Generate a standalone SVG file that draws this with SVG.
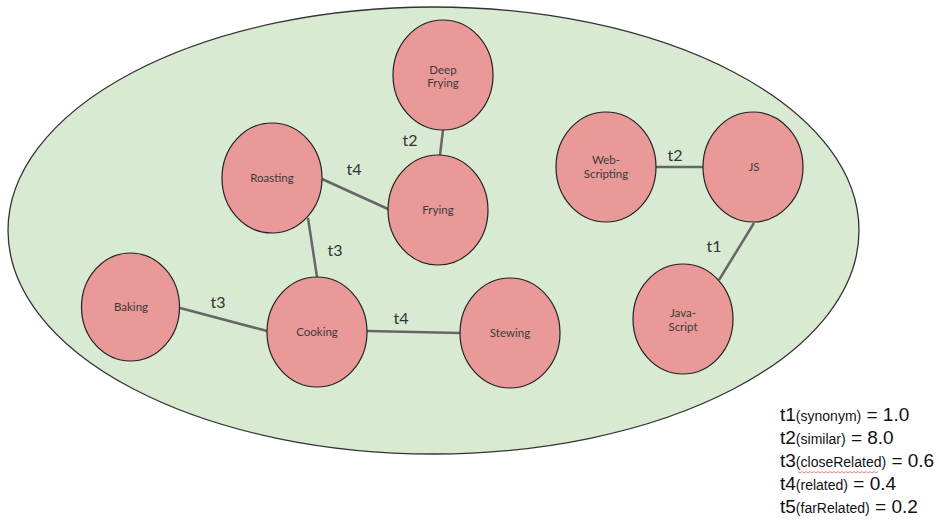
<svg xmlns="http://www.w3.org/2000/svg" width="939" height="521" viewBox="0 0 939 521">
  <style>
    .domain { fill: #d9ead3; stroke: #333; stroke-width: 1.3; }
    .node ellipse { fill: #ea9999; stroke: #222; stroke-width: 1.2; }
    .node text { font-family: Lato, "Open Sans", sans-serif; font-size: 11.5px; fill: #3a3a3a; text-anchor: middle; }
    .edges line { stroke: #666; stroke-width: 2.5; }
    .edges text { font-family: Lato, "Open Sans", sans-serif; font-size: 16px; fill: #333; text-anchor: middle; }
    .legend text { font-family: "Liberation Sans", Arial, sans-serif; font-size: 19px; fill: #111; }
    .legend tspan.sub { font-size: 14px; }
  </style>

  <!-- enclosing domain -->
  <ellipse class="domain" cx="433.5" cy="230.5" rx="425.5" ry="223.5"/>

  <!-- connectors -->
  <g id="edges" class="edges">
    <line x1="443" y1="130" x2="440" y2="155"/>
    <line x1="322" y1="179" x2="388" y2="209"/>
    <line x1="308" y1="218" x2="317" y2="277"/>
    <line x1="180" y1="308" x2="267" y2="331"/>
    <line x1="367" y1="331" x2="460" y2="333"/>
    <line x1="656" y1="167" x2="703" y2="167"/>
    <line x1="754" y1="223" x2="719" y2="280"/>
    <text x="410" y="146">t2</text>
    <text x="354" y="175">t4</text>
    <text x="335" y="256">t3</text>
    <text x="218" y="308">t3</text>
    <text x="401" y="324">t4</text>
    <text x="675" y="161">t2</text>
    <text x="714" y="252">t1</text>
  </g>

  <!-- concept nodes -->
  <g id="deep-frying" class="node">
    <ellipse cx="443" cy="75" rx="50" ry="55"/>
    <text x="443" y="74">Deep</text>
    <text x="443" y="87">Frying</text>
  </g>
  <g id="frying" class="node">
    <ellipse cx="438" cy="210" rx="50" ry="55"/>
    <text x="438" y="214">Frying</text>
  </g>
  <g id="roasting" class="node">
    <ellipse cx="272" cy="178" rx="50" ry="55"/>
    <text x="272" y="182">Roasting</text>
  </g>
  <g id="baking" class="node">
    <ellipse cx="130.5" cy="307" rx="49" ry="54"/>
    <text x="131" y="311">Baking</text>
  </g>
  <g id="cooking" class="node">
    <ellipse cx="317" cy="332" rx="50" ry="55"/>
    <text x="317" y="336">Cooking</text>
  </g>
  <g id="stewing" class="node">
    <ellipse cx="510" cy="333" rx="50" ry="55"/>
    <text x="510" y="337">Stewing</text>
  </g>
  <g id="web-scripting" class="node">
    <ellipse cx="606" cy="167" rx="50" ry="55"/>
    <text x="606" y="164">Web-</text>
    <text x="606" y="178">Scripting</text>
  </g>
  <g id="js" class="node">
    <ellipse cx="753" cy="167" rx="50" ry="55"/>
    <text x="754" y="171">JS</text>
  </g>
  <g id="java-script" class="node">
    <ellipse cx="683" cy="319" rx="50" ry="55"/>
    <text x="683" y="317">Java-</text>
    <text x="683" y="331">Script</text>
  </g>

  <!-- weight legend -->
  <g id="legend" class="legend">
    <text x="780" y="421">t1<tspan class="sub">(synonym)</tspan> = 1.0</text>
    <text x="780" y="444">t2<tspan class="sub">(similar)</tspan> = 8.0</text>
    <text x="780" y="467">t3<tspan class="sub">(closeRelated)</tspan> = 0.6</text>
    <text x="780" y="490">t4<tspan class="sub">(related)</tspan> = 0.4</text>
    <text x="780" y="513">t5<tspan class="sub">(farRelated)</tspan> = 0.2</text>
    <path d="M798 471.5 l2 1.5 l2 -1.5 l2 1.5 l2 -1.5 l2 1.5 l2 -1.5 l2 1.5 l2 -1.5 l2 1.5 l2 -1.5 l2 1.5 l2 -1.5 l2 1.5 l2 -1.5 l2 1.5 l2 -1.5 l2 1.5 l2 -1.5 l2 1.5 l2 -1.5 l2 1.5 l2 -1.5 l2 1.5 l2 -1.5 l2 1.5 l2 -1.5 l2 1.5 l2 -1.5 l2 1.5 l2 -1.5 l2 1.5 l2 -1.5 l2 1.5 l2 -1.5 l2 1.5 l2 -1.5 l2 1.5 l2 -1.5 l2 1.5 l2 -1.5" fill="none" stroke="#e06666" stroke-width="0.8"/>
  </g>
</svg>
